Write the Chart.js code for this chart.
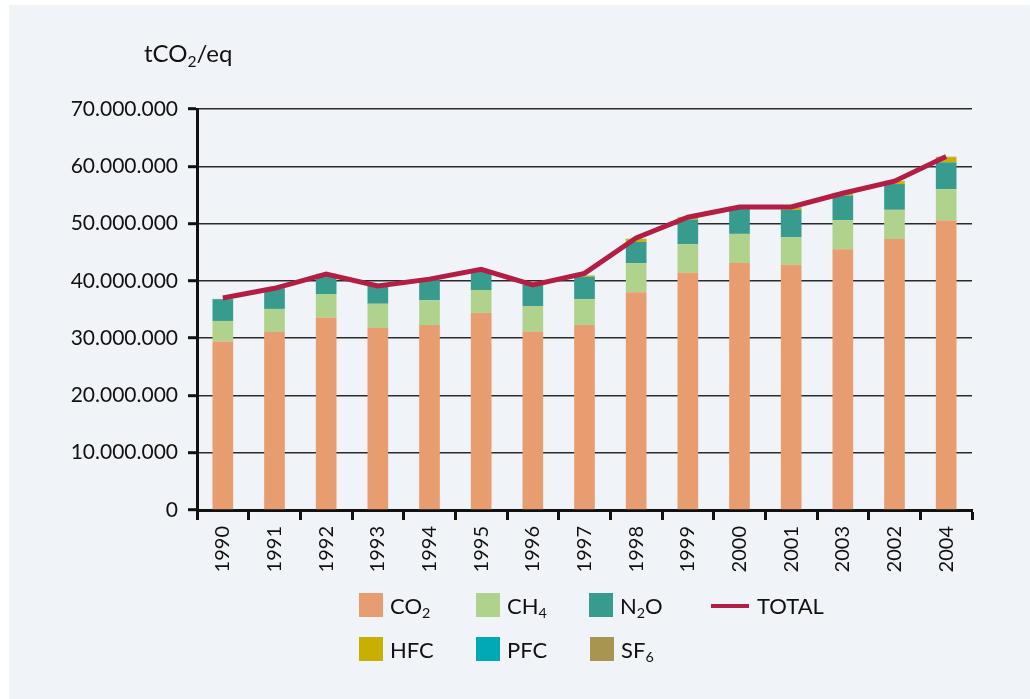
<!DOCTYPE html>
<html><head><meta charset="utf-8">
<script src="https://cdn.jsdelivr.net/npm/chart.js@4.4.1/dist/chart.umd.min.js"></script>
<style>
html,body{margin:0;padding:0;background:#ffffff;width:1030px;height:699px;overflow:hidden;}
#bg{position:absolute;left:9px;top:5px;right:0;bottom:0;background:#f0f4f8;}
#c{position:absolute;left:0;top:0;}
.t{position:absolute;font-family:'Lato',sans-serif;color:#111;white-space:nowrap;}
#title{left:144px;top:39px;font-size:24px;line-height:27px;}
sub{font-size:65%;vertical-align:-0.3em;line-height:0;}
.sw{position:absolute;width:24px;height:24px;}
.ln{position:absolute;width:38px;height:4px;}
.lt{position:absolute;font-family:'Lato',sans-serif;font-size:22px;line-height:24px;color:#111;white-space:nowrap;}
</style></head><body>
<div id="bg"></div>
<canvas id="c" width="1030" height="699"></canvas>
<div id="title" class="t">tCO<sub>2</sub>/eq</div>
<div id="legend"></div>
<script>
const categories = ['1990','1991','1992','1993','1994','1995','1996','1997','1998','1999','2000','2001','2003','2002','2004'];
const co2 = [29400000,31100000,33600000,31800000,32300000,34400000,31100000,32300000,38000000,41400000,43100000,42800000,45500000,47300000,50600000];
const ch4 = [3600000,4000000,4100000,4200000,4300000,4000000,4500000,4500000,5100000,5000000,5100000,4800000,5100000,5100000,5400000];
const n2o = [3800000,3600000,3500000,3300000,3500000,3300000,3700000,3900000,3700000,4300000,4400000,4800000,4300000,4500000,4700000];
const hfc = [0,0,0,0,0,0,0,200000,500000,400000,300000,400000,400000,500000,900000];
const pfc = [30000,30000,30000,30000,30000,30000,30000,30000,30000,30000,30000,30000,30000,30000,30000];
const sf6 = [20000,20000,20000,20000,20000,20000,20000,20000,20000,30000,30000,30000,30000,30000,40000];
const total = [37000000,38700000,41200000,39100000,40300000,42000000,39300000,41300000,47500000,51100000,52900000,52900000,55300000,57400000,61700000];
const yTickValues = [0,10000000,20000000,30000000,40000000,50000000,60000000,70000000];
const seriesLabels = ['CO<sub>2</sub>','CH<sub>4</sub>','N<sub>2</sub>O','TOTAL','HFC','PFC','SF<sub>6</sub>'];

const colors = {co2:'#e89d70',ch4:'#afd28d',n2o:'#379b8e',total:'#b31f44',hfc:'#c8b000',pfc:'#00a9b5',sf6:'#a89650'};
const FONT = 'Lato';
const fmt = v => String(Math.round(v)).replace(/\B(?=(\d{3})+(?!\d))/g,'.');

const barDs = (label,data,color) => ({type:'bar',label,data,backgroundColor:color,stack:'g',order:1,
  barPercentage:0.4,categoryPercentage:1.0,borderWidth:0});

new Chart(document.getElementById('c'), {
  type:'bar',
  data:{labels:categories, datasets:[
    {type:'line',label:'TOTAL',data:total,borderColor:colors.total,borderWidth:5,pointRadius:0,
     fill:false,tension:0,order:0,stack:'total',borderCapStyle:'butt',borderJoinStyle:'miter'},
    barDs('CO2',co2,colors.co2),
    barDs('CH4',ch4,colors.ch4),
    barDs('N2O',n2o,colors.n2o),
    barDs('HFC',hfc,colors.hfc),
    barDs('PFC',pfc,colors.pfc),
    barDs('SF6',sf6,colors.sf6)
  ]},
  options:{
    responsive:false, animation:false, devicePixelRatio:1,
    layout:{padding:{left:0,right:58,top:109,bottom:0}},
    plugins:{legend:{display:false},tooltip:{enabled:false},title:{display:false}},
    scales:{
      x:{stacked:true, offset:true,
        grid:{offset:true,drawOnChartArea:false,drawTicks:true,tickLength:10,tickWidth:3,tickColor:'#111'},
        border:{display:true,width:3,color:'#111'},
        ticks:{autoSkip:false,maxRotation:90,minRotation:90,padding:6,color:'#111',font:{family:FONT,size:20}},
        afterFit(s){ s.height = 699-510; }
      },
      y:{stacked:true, min:0, max:70000000,
        afterBuildTicks(s){ s.ticks = yTickValues.map(v=>({value:v})); },
        ticks:{padding:10,color:'#111',font:{family:FONT,size:21},callback:v=>fmt(v)},
        grid:{color:'#2a2a2a',lineWidth:1.4,drawTicks:true,tickLength:9,tickWidth:3,tickColor:'#111'},
        border:{display:true,width:3,color:'#111'},
        afterFit(s){ s.width = 197; }
      }
    }
  }
});

// HTML legend built from the series labels/colours
const legendItems = [
  {label:seriesLabels[0],color:colors.co2,x:359,y:593,kind:'box'},
  {label:seriesLabels[1],color:colors.ch4,x:476,y:593,kind:'box'},
  {label:seriesLabels[2],color:colors.n2o,x:589,y:593,kind:'box'},
  {label:seriesLabels[3],color:colors.total,x:711,y:593,kind:'line'},
  {label:seriesLabels[4],color:colors.hfc,x:359,y:637,kind:'box'},
  {label:seriesLabels[5],color:colors.pfc,x:476,y:637,kind:'box'},
  {label:seriesLabels[6],color:colors.sf6,x:590,y:637,kind:'box'}
];
const lg = document.getElementById('legend');
legendItems.forEach(it=>{
  const m = document.createElement('div');
  if(it.kind==='box'){ m.className='sw'; m.style.left=it.x+'px'; m.style.top=it.y+'px'; }
  else { m.className='ln'; m.style.left=it.x+'px'; m.style.top=(it.y+11)+'px'; }
  m.style.background = it.color;
  lg.appendChild(m);
  const t = document.createElement('div');
  t.className='lt';
  t.style.left = (it.x + (it.kind==='box'?31:46)) + 'px';
  t.style.top = (it.y+1) + 'px';
  t.innerHTML = it.label;
  lg.appendChild(t);
});
</script>
</body></html>
